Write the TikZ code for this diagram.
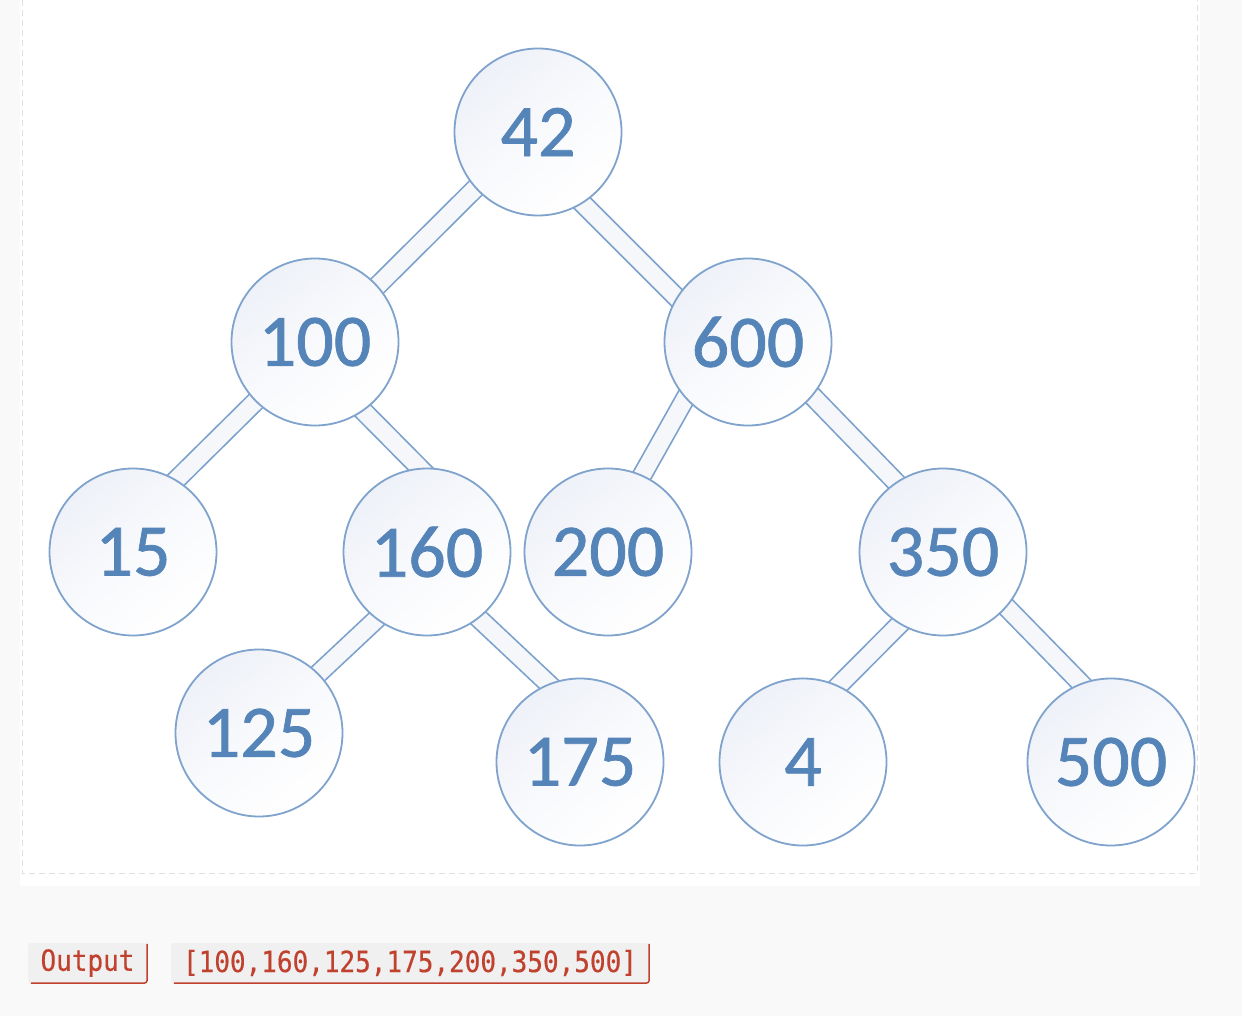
\documentclass[tikz,border=0pt]{standalone}
\usepackage{fontspec}
\setmainfont{Carlito}
\newfontfamily\nodefont{Carlito}[FakeBold=1]
\newfontfamily\monofnt{DejaVu Sans Mono}[FakeBold=0.4]
\pgfdeclarelayer{bg}
\pgfdeclarelayer{edges}
\pgfsetlayers{bg,edges,main}
\definecolor{pagebg}{HTML}{F9F9F9}
\definecolor{dashgray}{HTML}{E0E0E0}
\definecolor{nodeline}{HTML}{7FA3CD}
\definecolor{edgeline}{HTML}{7BA1CD}
\definecolor{nodetext}{HTML}{5584B8}
\definecolor{nodefill}{HTML}{EEF1F8}
\definecolor{edgefill}{HTML}{F5F7FB}
\definecolor{outred}{HTML}{C0412D}
\definecolor{outfill}{HTML}{F0F0F0}
\tikzset{
  treenode/.style={circle, minimum size=167pt, inner sep=0pt, draw=nodeline, line width=1.8pt,
    shading=axis, top color=nodefill, bottom color=white, middle color=white!60!nodefill, shading angle=40,
    text=nodetext, font=\nodefont\fontsize{74}{74}\selectfont},
  treeedge/.style={draw=edgeline, line width=1.7pt, double=edgefill, double distance=17pt,
    shorten <=-12pt, shorten >=-12pt},
  outbox/.style={fill=outfill, rounded corners=3pt, inner sep=0pt, text=outred,
    font=\monofnt\fontsize{26}{26}\selectfont, anchor=center}
}
\begin{document}
\begin{tikzpicture}[x=1pt,y=-1pt]
\useasboundingbox (0,0) rectangle (1242,1016);
\begin{pgfonlayer}{bg}
\fill[pagebg] (0,0) rectangle (1242,1016);
\fill[white] (20,0) rectangle (1200,886);
\draw[dashgray, line width=1pt, dash pattern=on 6pt off 4pt] (22,0) -- (22,873) -- (1197,873) -- (1197,0);
\end{pgfonlayer}

\node[treenode] (n42)  at (538,132) {42};
\node[treenode] (n100) at (315,342) {100};
\node[treenode] (n600) at (748,342) {600};
\node[treenode] (n15)  at (133,552) {15};
\node[treenode] (n160) at (427,552) {160};
\node[treenode] (n200) at (608,552) {200};
\node[treenode] (n350) at (943,552) {350};
\node[treenode] (n125) at (259,733) {125};
\node[treenode] (n175) at (580,762) {175};
\node[treenode] (n4)   at (803,762) {4};
\node[treenode] (n500) at (1111,762) {500};

\begin{pgfonlayer}{edges}
\draw[treeedge] (n42.-138) -- (n100.42);
\draw[treeedge] (n42.-58) -- (n600.148);
\draw[treeedge] (n100.-135) -- (n15.59);
\draw[treeedge] (n100.-55) -- (n160.95);
\draw[treeedge] (n600.-138) -- (n200.66);
\draw[treeedge] (n600.-40) -- (n350.124);
\draw[treeedge] (n160.-127) -- (n125.45);
\draw[treeedge] (n160.-52) -- (n175.112);
\draw[treeedge] (n350.-121) -- (n4.65);
\draw[treeedge] (n350.-41) -- (n500.111);
\end{pgfonlayer}

\node[outbox, minimum width=119pt, minimum height=40pt] (outlabel) at (87.5,963) {\scalebox{1}[1.12]{Output}};
\node[outbox, minimum width=478pt, minimum height=40pt] (outval) at (410,963) {\scalebox{1}[1.12]{[100,160,125,175,200,350,500]}};
\draw[outred, line width=1.5pt, rounded corners=3pt] ([yshift=-1pt]outlabel.north east) -- (outlabel.south east) -- ([xshift=3pt]outlabel.south west);
\draw[outred, line width=1.5pt, rounded corners=3pt] ([yshift=-1pt]outval.north east) -- (outval.south east) -- ([xshift=3pt]outval.south west);
\end{tikzpicture}
\end{document}
